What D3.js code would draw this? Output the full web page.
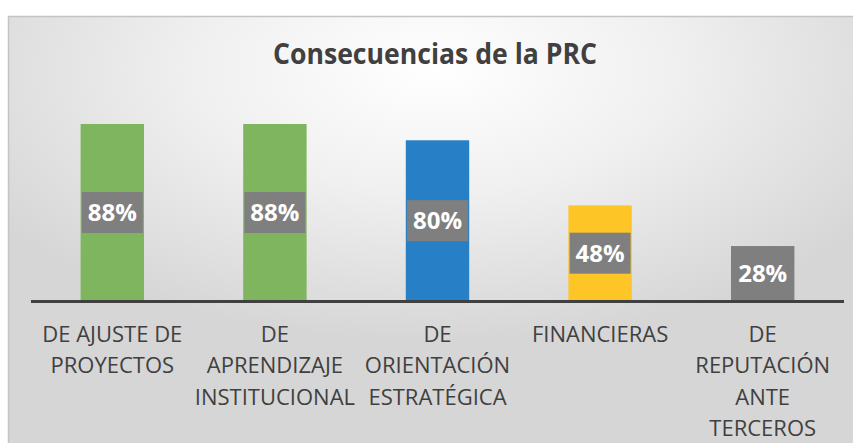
<!DOCTYPE html>
<html>
<head>
<meta charset="utf-8">
<script src="https://cdn.jsdelivr.net/npm/d3@7"></script>
<style>
  html, body { margin: 0; padding: 0; background: #fff; }
  svg { display: block; font-family: 'Open Sans', sans-serif; }
</style>
</head>
<body>
<svg id="chart" width="853" height="443"></svg>
<script>
const title = 'Consecuencias de la PRC'
const categories = ['ajuste', 'aprendizaje', 'orientacion', 'financieras', 'reputacion']
const tickLabels = [
    ['DE AJUSTE DE', 'PROYECTOS'],
    ['DE', 'APRENDIZAJE', 'INSTITUCIONAL'],
    ['DE', 'ORIENTACIÓN', 'ESTRATÉGICA'],
    ['FINANCIERAS'],
    ['DE', 'REPUTACIÓN', 'ANTE', 'TERCEROS']
]
const values = [0.88, 0.88, 0.80, 0.48, 0.28]
const barColors = ['#7fb55f', '#7fb55f', '#2780c6', '#fdc626', '#7f7f7f']

const size = { width: 853, height: 443 }
const svg = d3.select('#chart')

// background panel with soft radial gradient
const defs = svg.append('defs')
const grad = defs.append('radialGradient')
    .attr('id', 'bg')
    .attr('cx', '50%').attr('cy', '12%').attr('r', '62%')
    .attr('gradientUnits', 'objectBoundingBox')
grad.append('stop').attr('offset', '0%').attr('stop-color', '#ffffff')
grad.append('stop').attr('offset', '45%').attr('stop-color', '#f0f0f0')
grad.append('stop').attr('offset', '100%').attr('stop-color', '#d6d6d6')

svg.append('rect')
    .attr('x', 8.5).attr('y', 16.5)
    .attr('width', 852).attr('height', 440)
    .attr('fill', 'url(#bg)')
    .attr('stroke', '#c4c4c4')
    .attr('stroke-width', 1.5)

svg.append('text')
    .attr('x', 435).attr('y', 64)
    .attr('text-anchor', 'middle')
    .attr('font-size', 29)
    .attr('font-weight', 700)
    .attr('fill', '#404040')
    .attr('textLength', 324)
    .attr('lengthAdjust', 'spacingAndGlyphs')
    .text(title)

const x = d3.scaleBand()
    .domain(categories)
    .range([31, 844])
    .padding(0)

const y = d3.scaleLinear()
    .domain([0, 1])
    .range([303, 303 - 203.4])

const barW = x.bandwidth() * 0.39

const g = svg.append('g')

g.selectAll('.bar')
    .data(values)
    .enter()
        .append('rect')
        .attr('class', 'bar')
        .attr('x', (d, i) => x(categories[i]) + (x.bandwidth() - barW) / 2)
        .attr('y', d => y(d))
        .attr('width', barW)
        .attr('height', d => y(0) - y(d))
        .attr('fill', (d, i) => barColors[i])

// axis line
svg.append('line')
    .attr('x1', x.range()[0]).attr('x2', x.range()[1])
    .attr('y1', 301.5).attr('y2', 301.5)
    .attr('stroke', '#404040')
    .attr('stroke-width', 3)

// data labels in gray boxes
const boxW = 61, boxH = 41
const labels = g.selectAll('.lbl')
    .data(values)
    .enter()
        .append('g')
        .attr('class', 'lbl')
        .attr('transform', (d, i) => {
            const cx = x(categories[i]) + x.bandwidth() / 2
            const cy = (y(d) + y(0)) / 2 - 1
            return `translate(${cx},${cy})`
        })

labels.append('rect')
    .attr('x', -boxW / 2).attr('y', -boxH / 2)
    .attr('width', boxW).attr('height', boxH)
    .attr('fill', '#7f7f7f')

labels.append('text')
    .attr('text-anchor', 'middle')
    .attr('dy', '0.36em')
    .attr('font-size', 24)
    .attr('font-weight', 700)
    .attr('fill', '#ffffff')
    .text(d => d3.format('.0%')(d))

// category labels
const ticks = svg.append('g')
    .selectAll('text')
    .data(tickLabels)
    .enter()
        .append('text')
        .attr('text-anchor', 'middle')
        .attr('font-size', 22)
        .attr('fill', '#404040')
        .attr('x', (d, i) => x(categories[i]) + x.bandwidth() / 2)
        .attr('y', 342)

ticks.selectAll('tspan')
    .data(d => d)
    .enter()
        .append('tspan')
        .attr('x', function () { return d3.select(this.parentNode).attr('x') })
        .attr('y', (d, i) => 342 + i * 31.3)
        .text(d => d)
</script>
</body>
</html>
